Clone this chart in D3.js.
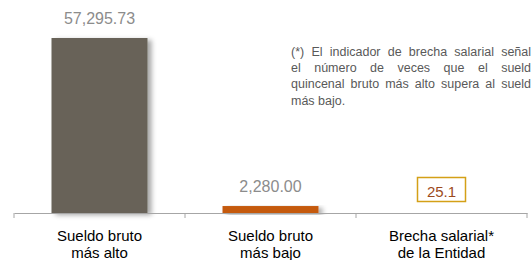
<!DOCTYPE html>
<html>
<head>
<meta charset="utf-8">
<script src="https://cdn.jsdelivr.net/npm/d3@7"></script>
<style>
  html, body { margin: 0; padding: 0; background: #fff; overflow: hidden; }
  #chart { position: relative; width: 531px; height: 260px; overflow: hidden; }
  svg { position: absolute; left: 0; top: 0; }
  .note {
    position: absolute; left: 291px; top: 43.5px; width: 247px;
    font-family: "Liberation Sans", Arial, sans-serif; font-size: 12.5px;
    line-height: 16.4px; color: #595959;
  }
  .note div { text-align: justify; text-align-last: justify; white-space: nowrap; }
  .note div:last-child { text-align-last: left; }
</style>
</head>
<body>
<div id="chart"></div>
<script>
const categories = [["Sueldo bruto", "más alto"], ["Sueldo bruto", "más bajo"], ["Brecha salarial*", "de la Entidad"]];
const barValues = [57295.73, 2280.00];
const barLabels = ["57,295.73", "2,280.00"];
const barColors = ["#676259", "#c55a11"];
const gapValue = "25.1";
const noteLines = [
  "(*) El indicador de brecha salarial señala",
  "el número de veces que el sueldo",
  "quincenal bruto más alto supera al sueldo",
  "más bajo."
];

const width = 531, height = 260;
const margin = { left: 14, right: 4, top: 38, bottom: 47 };

const svg = d3.select("#chart").append("svg")
  .attr("width", width).attr("height", height);

const defs = svg.append("defs");
const f = defs.append("filter").attr("id", "shadow")
  .attr("x", "-10%").attr("y", "-10%").attr("width", "130%").attr("height", "130%");
f.append("feDropShadow").attr("dx", 4).attr("dy", 2).attr("stdDeviation", 2.5)
  .attr("flood-color", "#000").attr("flood-opacity", 0.35);

const x = d3.scaleBand()
  .domain(d3.range(categories.length))
  .range([margin.left, width - margin.right])
  .paddingInner(0).paddingOuter(0);

const y = d3.scaleLinear()
  .domain([0, barValues[0]])
  .range([height - margin.bottom, margin.top]);

const barW = 96;
const font = "'Liberation Sans', Arial, sans-serif";

// bars
svg.selectAll("rect.bar")
  .data(barValues)
  .enter().append("rect")
  .attr("class", "bar")
  .attr("x", (d, i) => x(i) + x.bandwidth() / 2 - barW / 2)
  .attr("y", d => y(d))
  .attr("width", barW)
  .attr("height", d => y(0) - y(d))
  .attr("fill", (d, i) => barColors[i])
  .attr("filter", "url(#shadow)");

// value labels
svg.selectAll("text.val")
  .data(barValues)
  .enter().append("text")
  .attr("class", "val")
  .attr("x", (d, i) => x(i) + x.bandwidth() / 2)
  .attr("y", d => y(d) - 14)
  .attr("text-anchor", "middle")
  .attr("font-family", font)
  .attr("font-size", 16)
  .attr("fill", "#8c8c8c")
  .text((d, i) => barLabels[i]);

// axis
const axis = svg.append("g")
  .attr("transform", `translate(0, ${y(0)})`)
  .call(d3.axisBottom(x).tickValues([]).tickSizeOuter(0));
axis.select(".domain").attr("stroke", "#a6a6a6");
const tickPos = d3.range(categories.length + 1).map(i => i < categories.length ? x(i) : x(categories.length - 1) + x.bandwidth());
axis.selectAll("line.tk")
  .data(tickPos)
  .enter().append("line")
  .attr("class", "tk")
  .attr("x1", d => d).attr("x2", d => d)
  .attr("y1", 0).attr("y2", 5)
  .attr("stroke", "#a6a6a6");

// category labels
categories.forEach((lines, i) => {
  const t = svg.append("text")
    .attr("text-anchor", "middle")
    .attr("font-family", font)
    .attr("font-size", 15)
    .attr("fill", "#000");
  lines.forEach((l, j) => {
    t.append("tspan")
      .attr("x", x(i) + x.bandwidth() / 2)
      .attr("y", 241 + j * 17)
      .text(l);
  });
});

// gap indicator box
const cx = x(2) + x.bandwidth() / 2;
svg.append("rect")
  .attr("x", cx - 24).attr("y", 177.5)
  .attr("width", 48).attr("height", 24)
  .attr("fill", "#fff")
  .attr("stroke", "#d4a017")
  .attr("stroke-width", 1.5);
svg.append("text")
  .attr("x", cx).attr("y", 197)
  .attr("text-anchor", "middle")
  .attr("font-family", font)
  .attr("font-size", 15)
  .attr("fill", "#9c4a1c")
  .text(gapValue);

// note
d3.select("#chart").append("div")
  .attr("class", "note")
  .selectAll("div")
  .data(noteLines)
  .enter().append("div")
  .text(d => d);
</script>
</body>
</html>
